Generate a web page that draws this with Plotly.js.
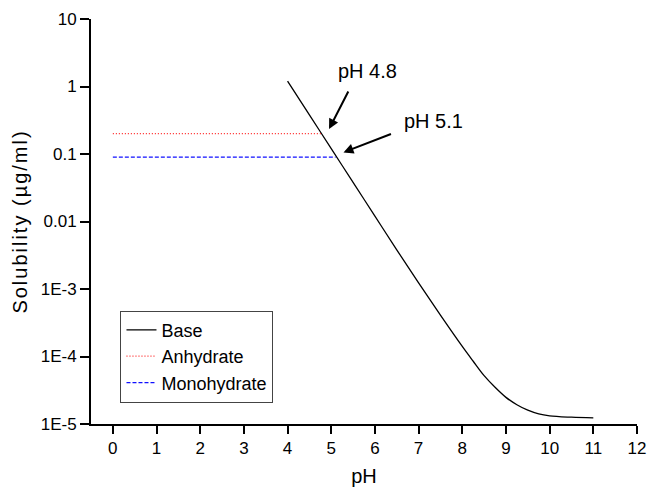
<!DOCTYPE html>
<html>
<head>
<meta charset="utf-8">
<script src="https://cdn.plot.ly/plotly-3.0.1.min.js"></script>
<style>html,body{margin:0;padding:0;background:#fff;}#chart{width:648px;height:488px;}</style>
</head>
<body>
<div id="chart"></div>
<script>
// Base solubility curve
const basePH = [4.0, 4.5, 5.0, 5.5, 6.0, 6.5, 7.0, 7.5, 8.0, 8.25, 8.5, 8.75, 9.0, 9.25, 9.5, 9.75, 10.0, 10.5, 11.0];
const baseSol = [1.2, 0.38, 0.12, 0.038, 0.012, 0.0038, 1.23e-3, 4.1e-4, 1.41e-4, 8.5e-5, 5.2e-5, 3.5e-5, 2.48e-5, 1.93e-5, 1.6e-5, 1.41e-5, 1.32e-5, 1.26e-5, 1.23e-5];
// Solubility limits of the two solid forms
const anhydratePH = [0, 4.8];
const anhydrateSol = [0.2, 0.2];
const monohydratePH = [0, 5.1];
const monohydrateSol = [0.09, 0.09];
// Axis ticks
const xTicks = [0,1,2,3,4,5,6,7,8,9,10,11,12];
const yTickVals = [1e-5, 1e-4, 1e-3, 0.01, 0.1, 1, 10];
const yTickText = ['1E-5', '1E-4', '1E-3', '0.01', '0.1', '1', '10'];

const FONT = 'Liberation Sans, Arial, sans-serif';

const traces = [
  {x: basePH, y: baseSol, mode: 'lines', name: 'Base',
   line: {color: '#000000', width: 1.3, shape: 'spline', smoothing: 1}},
  {x: anhydratePH, y: anhydrateSol, mode: 'lines', name: 'Anhydrate',
   line: {color: '#ff2020', width: 1.2, dash: '1px,2px'}},
  {x: monohydratePH, y: monohydrateSol, mode: 'lines', name: 'Monohydrate',
   line: {color: '#1010ff', width: 1.2, dash: '4px,2px'}}
];

const layout = {
  width: 648, height: 488,
  margin: {l: 91, r: 11, t: 19, b: 64},
  paper_bgcolor: '#ffffff', plot_bgcolor: '#ffffff',
  font: {family: FONT, color: '#000000', size: 16},
  showlegend: true,
  legend: {x: 0.054, y: 0.28, xanchor: 'left', yanchor: 'top',
           bgcolor: 'rgba(255,255,255,0)', bordercolor: '#444444', borderwidth: 1,
           entrywidth: 168,
           font: {family: FONT, size: 18, color: '#000000'}, tracegroupgap: 0},
  xaxis: {
    range: [-0.5, 12], tickvals: xTicks, ticktext: xTicks.map(String),
    showline: true, linecolor: '#000000', linewidth: 2,
    ticks: 'outside', ticklen: 8, tickwidth: 2, tickcolor: '#000000',
    showgrid: false, zeroline: false,
    tickfont: {family: FONT, size: 17, color: '#000000'},
    title: {text: 'pH', font: {family: FONT, size: 20, color: '#000000'}, standoff: 12}
  },
  yaxis: {
    type: 'log', range: [-5, 1], tickvals: yTickVals, ticktext: yTickText,
    showline: true, linecolor: '#000000', linewidth: 2,
    ticks: 'outside', ticklen: 9, tickwidth: 2, tickcolor: '#000000',
    showgrid: false, zeroline: false,
    tickfont: {family: FONT, size: 17, color: '#000000'},
    title: {text: '<span style="letter-spacing:2px">Solubility (µg/ml)</span>', font: {family: FONT, size: 20, color: '#000000'}, standoff: 8}
  },
  shapes: [
    {type: 'line', xref: 'paper', yref: 'paper', x0: -0.015, x1: 0, y0: 0, y1: 0,
     line: {color: '#000000', width: 2}}
  ],
  annotations: [
    {xref: 'x', yref: 'y', x: 5.84, y: 0.234, text: 'pH 4.8', showarrow: false,
     font: {family: FONT, size: 20, color: '#000000'}},
    {xref: 'x', yref: 'y', x: 7.34, y: -0.507, text: 'pH 5.1', showarrow: false,
     font: {family: FONT, size: 20, color: '#000000'}},
    {xref: 'x', yref: 'y', x: 4.95, y: -0.63, text: '', showarrow: true,
     ax: 20, ay: -39, arrowhead: 2, arrowsize: 1, arrowwidth: 2, arrowcolor: '#000000'},
    {xref: 'x', yref: 'y', x: 5.28, y: -0.976, text: '', showarrow: true,
     ax: 49, ay: -19, arrowhead: 2, arrowsize: 1, arrowwidth: 2, arrowcolor: '#000000'}
  ]
};

Plotly.newPlot('chart', traces, layout, {displayModeBar: false, staticPlot: true});
</script>
</body>
</html>
